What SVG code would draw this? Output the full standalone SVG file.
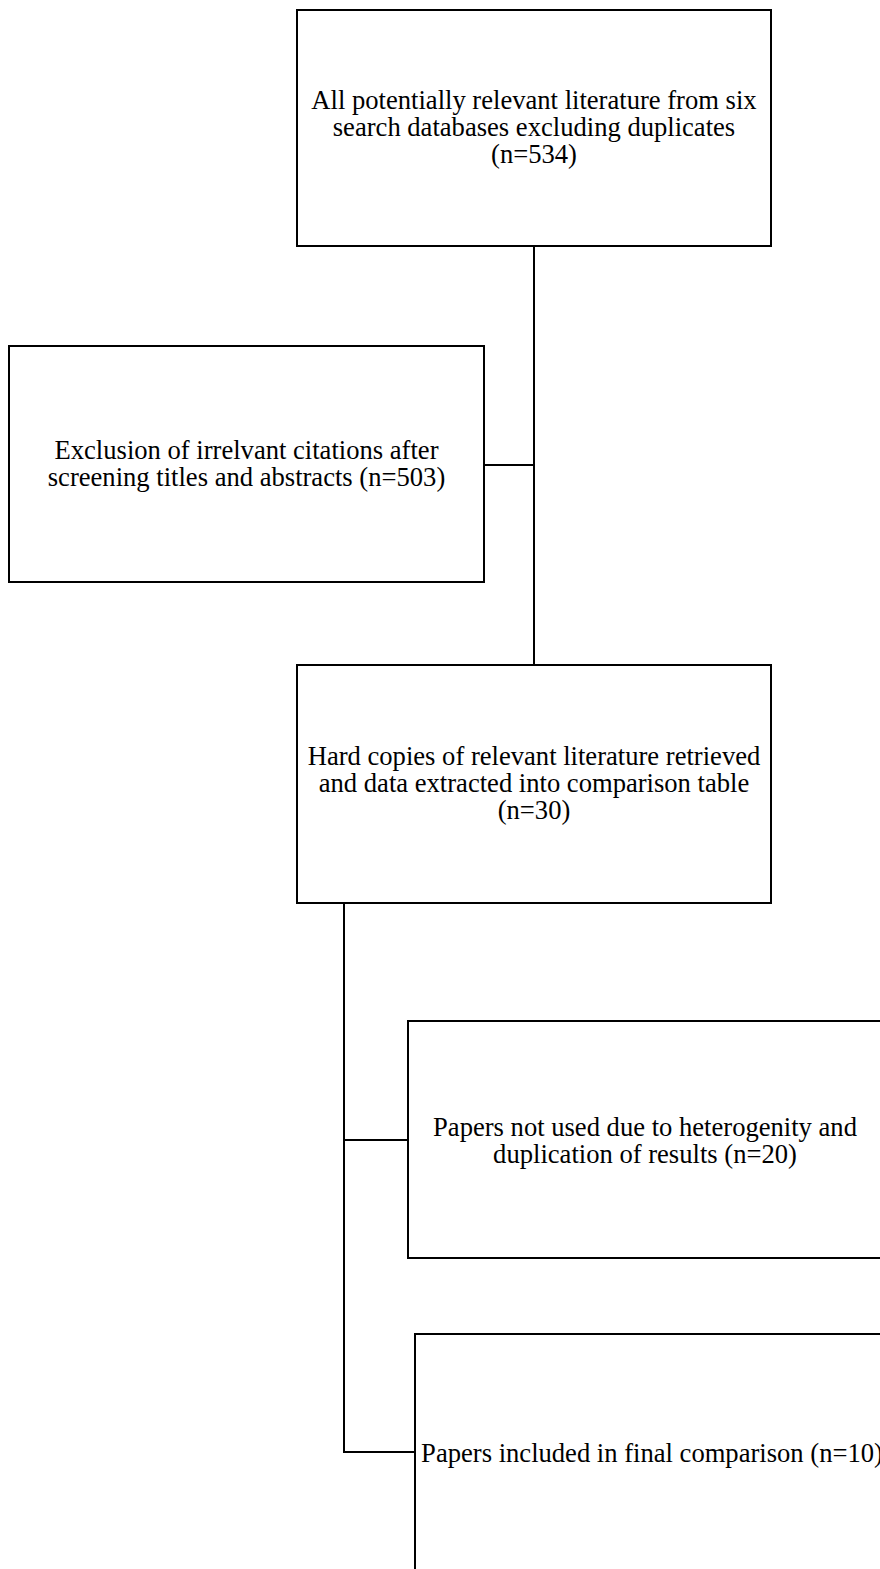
<svg xmlns="http://www.w3.org/2000/svg" width="880" height="1569" viewBox="0 0 880 1569">
<style>
.box{fill:#fff;stroke:#000;stroke-width:2}
.conn{fill:none;stroke:#000;stroke-width:2}
text{font-family:"Liberation Serif","Times New Roman",serif;font-size:26.6px;fill:#000;text-anchor:middle}
</style>
<rect width="880" height="1569" fill="#fff"/>
<g id="connectors">
<path class="conn" d="M534,246 V665"/>
<path class="conn" d="M484,465 H534"/>
<path class="conn" d="M344,903 V1452 H415"/>
<path class="conn" d="M344,1140 H408"/>
</g>
<g id="n1">
<rect class="box" x="297" y="10" width="474" height="236"/>
<text x="534" y="109">All potentially relevant literature from six</text>
<text x="534" y="136">search databases excluding duplicates</text>
<text x="534" y="163">(n=534)</text>
</g>
<g id="n2">
<rect class="box" x="9" y="346" width="475" height="236"/>
<text x="246.5" y="459">Exclusion of irrelvant citations after</text>
<text x="246.5" y="486">screening titles and abstracts (n=503)</text>
</g>
<g id="n3">
<rect class="box" x="297" y="665" width="474" height="238"/>
<text x="534" y="765">Hard copies of relevant literature retrieved</text>
<text x="534" y="792">and data extracted into comparison table</text>
<text x="534" y="819">(n=30)</text>
</g>
<g id="n4">
<rect class="box" x="408" y="1021" width="474" height="237"/>
<text x="645" y="1136">Papers not used due to heterogenity and</text>
<text x="645" y="1163">duplication of results (n=20)</text>
</g>
<g id="n5">
<rect class="box" x="415" y="1334" width="474" height="240"/>
<text x="652" y="1462">Papers included in final comparison (n=10)</text>
</g>
</svg>
